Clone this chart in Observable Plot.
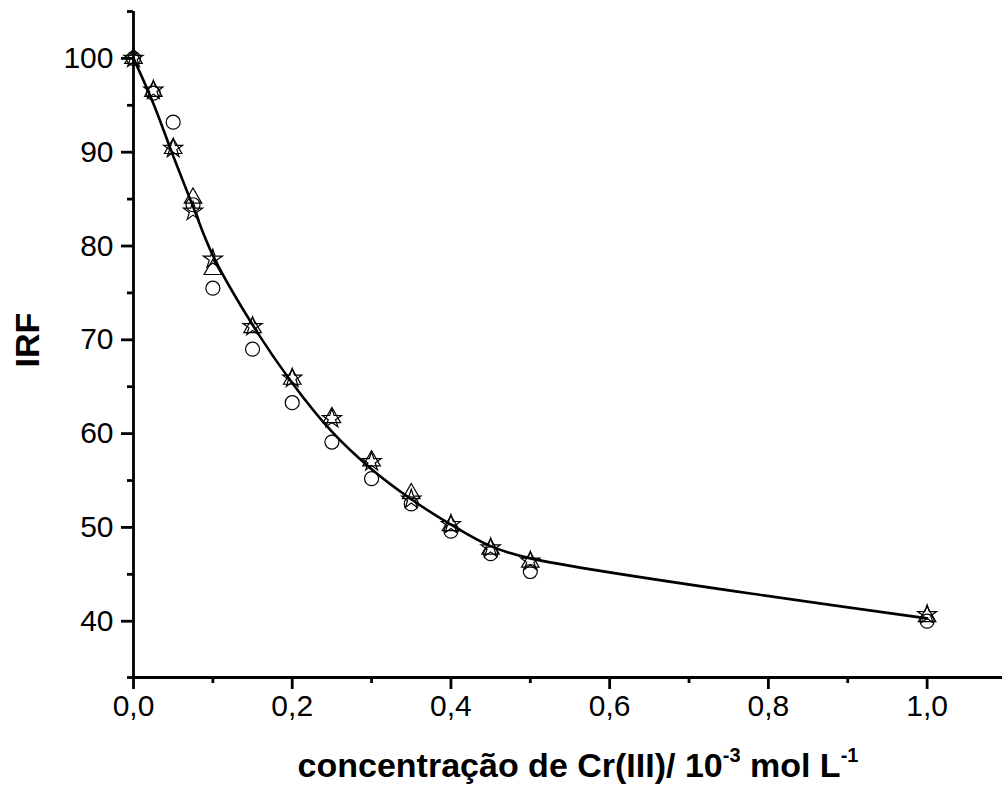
<!DOCTYPE html>
<html><head><meta charset="utf-8">
<script src="https://cdn.jsdelivr.net/npm/d3@7"></script>
<script src="https://cdn.jsdelivr.net/npm/@observablehq/plot@0.6"></script>
<style>body{margin:0;background:#fff;} #chart svg{display:block;}</style>
</head><body><div id="chart"></div>
<script>
const conc        = [0, 0.025, 0.05, 0.075, 0.1, 0.15, 0.2, 0.25, 0.3, 0.35, 0.4, 0.45, 0.5, 1.0];
const irfCircle   = [100, 96.3, 93.2, 84.4, 75.5, 69.0, 63.3, 59.1, 55.2, 52.5, 49.6, 47.2, 45.3, 40.0];
const irfTriangle = [100, 96.5, 90.4, 85.1, 77.5, 71.3, 65.8, 61.7, 57.1, 53.6, 50.2, 47.7, 46.3, 40.5];
const irfStar     = [100, 96.6, 90.4, 83.7, 78.6, 71.4, 65.9, 61.6, 57.0, 53.0, 50.3, 47.8, 46.4, 40.7];
const irfFit      = [100, 95.2, 89.6, 84.2, 79.0, 71.6, 65.4, 60.2, 56.2, 53.0, 50.3, 48.0, 46.7, 40.3];
const xMajor = [0, 0.2, 0.4, 0.6, 0.8, 1.0];
const xMinor = [0.1, 0.3, 0.5, 0.7, 0.9];
const yMajor = [40, 50, 60, 70, 80, 90, 100];
const yMinor = [34, 45, 55, 65, 75, 85, 95, 105];
const xTitle = ["concentração de Cr(III)/ 10", "-3", " mol L", "-1"];
const yTitle = "IRF";

const mk = arr => conc.map((c, i) => ({x: c, y: arr[i]}));
const fmt = d => d.toFixed(1).replace(".", ",");

const plot = Plot.plot({
  width: 1004, height: 789,
  marginLeft: 133, marginTop: 11, marginBottom: 112, marginRight: 2,
  style: {fontFamily: "'Liberation Sans', Arial, sans-serif", background: "white", color: "black"},
  x: {domain: [0, 1.095], axis: null},
  y: {domain: [34, 105], axis: null},
  marks: [
    Plot.axisX(xMajor, {tickSize: 12, tickPadding: 5, strokeWidth: 2.8, fontSize: 30, tickFormat: fmt, label: null}),
    Plot.axisX(xMinor, {tickSize: 6, strokeWidth: 2.8, tickFormat: () => "", label: null}),
    Plot.axisY(yMajor, {tickSize: 12, tickPadding: 8, strokeWidth: 2.8, fontSize: 30, label: null}),
    Plot.axisY(yMinor, {tickSize: 6, strokeWidth: 2.8, tickFormat: () => "", label: null}),
    Plot.ruleX([0], {strokeWidth: 2.8}),
    Plot.ruleY([34], {strokeWidth: 2.8}),
    Plot.dot(mk(irfCircle), {x: "x", y: "y", symbol: "circle", r: 7, stroke: "black", fill: "none", strokeWidth: 1.2}),
    Plot.dot(mk(irfTriangle), {x: "x", y: "y", symbol: "triangle", r: 6.5, stroke: "black", fill: "none", strokeWidth: 1.2}),
    Plot.dot(mk(irfStar), {x: "x", y: "y", symbol: "star", r: 6, stroke: "black", fill: "none", strokeWidth: 1.2}),
    Plot.line(mk(irfFit), {x: "x", y: "y", curve: "catmull-rom", stroke: "black", strokeWidth: 2.6})
  ]
});
document.getElementById("chart").appendChild(plot);

const svg = d3.select(plot);
const t = svg.append("text")
  .attr("x", 578).attr("y", 777)
  .attr("text-anchor", "middle")
  .attr("font-family", "'Liberation Sans', Arial, sans-serif")
  .attr("font-weight", "bold").attr("font-size", 34).attr("fill", "black");
t.append("tspan").text(xTitle[0]);
t.append("tspan").attr("font-size", 20).attr("dy", -15).text(xTitle[1]);
t.append("tspan").attr("dy", 15).text(xTitle[2]);
t.append("tspan").attr("font-size", 20).attr("dy", -15).text(xTitle[3]);

svg.append("text")
  .attr("transform", "translate(39,340) rotate(-90)")
  .attr("text-anchor", "middle")
  .attr("font-family", "'Liberation Sans', Arial, sans-serif")
  .attr("font-weight", "bold").attr("font-size", 34).attr("fill", "black")
  .text(yTitle);
</script>
</body></html>
